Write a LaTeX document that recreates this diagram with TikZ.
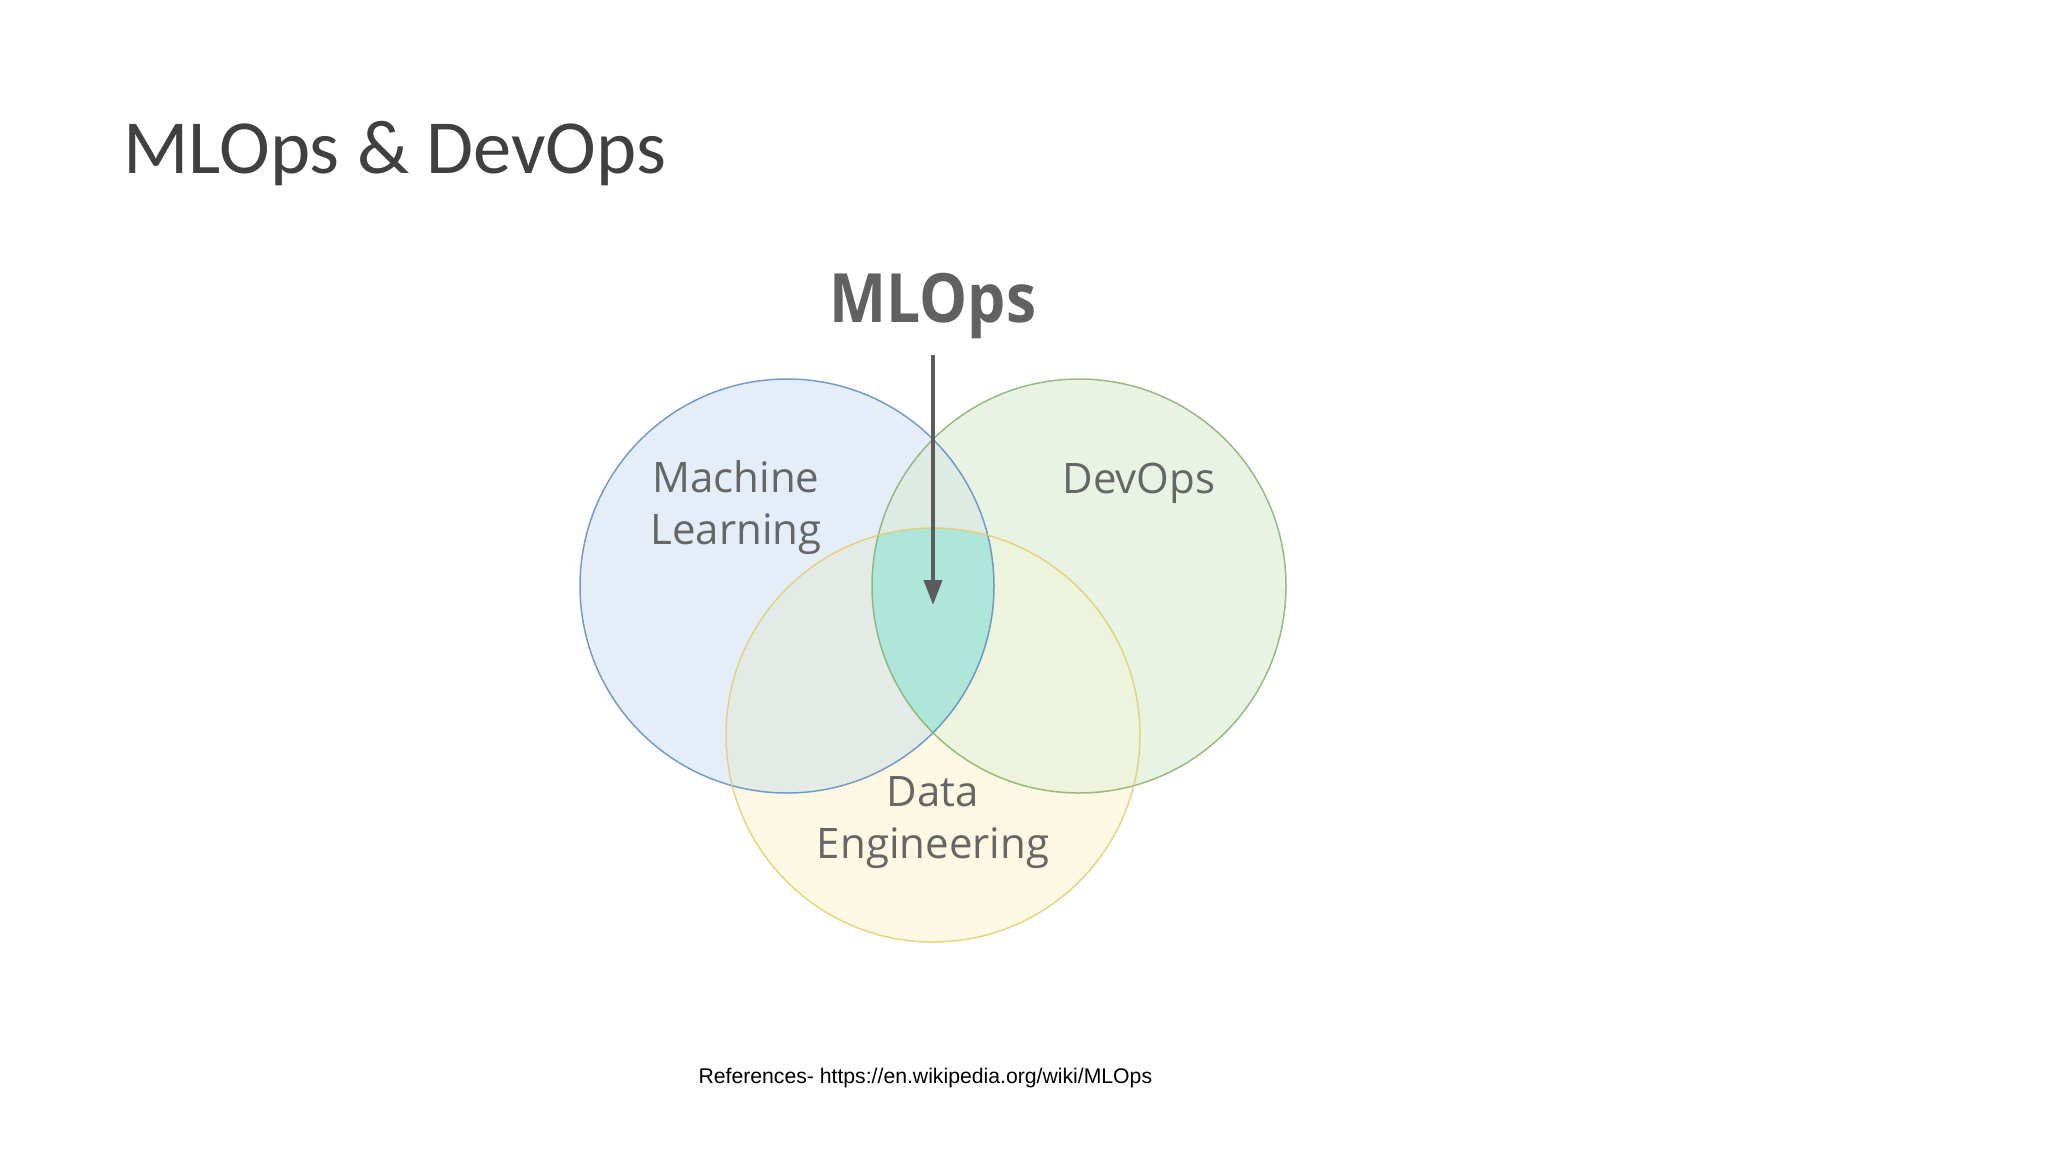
\documentclass[tikz,border=0pt]{standalone}
\usepackage{fontspec}
\setmainfont{Open Sans}
\newfontfamily\titlefont{Carlito}
\newfontfamily\narrowbold[FakeStretch=0.89]{Open Sans}
\newfontfamily\reffont{Liberation Sans}
\usetikzlibrary{arrows.meta}
\definecolor{mlfill}{HTML}{E5EEF8}
\definecolor{mlline}{HTML}{5E8CC3}
\definecolor{devfill}{HTML}{E8F3E4}
\definecolor{devline}{HTML}{88B06E}
\definecolor{defill}{HTML}{FCF8E3}
\definecolor{deline}{HTML}{E0CF70}
\definecolor{mldev}{HTML}{DEEBE3}
\definecolor{mlde}{HTML}{E4EBE6}
\definecolor{devde}{HTML}{EDF3DD}
\definecolor{core}{HTML}{AEE6DA}
\definecolor{labelgrey}{HTML}{666666}
\definecolor{titlegrey}{HTML}{404040}
\begin{document}
\begin{tikzpicture}
  [x=1pt, y=-1pt,
    setlabel/.style={%
      text=labelgrey, font=\fontsize{42}{52}\selectfont, align=center
    },
    bigword/.style={%
      text=labelgrey!95!black, font=\narrowbold\fontsize{68}{80}\selectfont\bfseries
    },
    pointer/.style={%
      -{Triangle[length=25pt,width=18pt]}, line width=4pt, draw=labelgrey!90!black
    },
    ring/.style={%
      line width=1.5pt, draw opacity=0.85
    },
  ]
  \useasboundingbox (0,0) rectangle (2048,1152);
  \fill[white] (0,0) rectangle (2048,1152);

  \coordinate (ml) at (787,586);
  \coordinate (dev) at (1079,586);
  \coordinate (de) at (933,735);
  \def\rad{207}

  \fill[mlfill] (ml) circle (\rad);
  \fill[devfill] (dev) circle (\rad);
  \fill[defill] (de) circle (\rad);

  \begin{scope}
    \clip (ml) circle (\rad);
    \fill[mldev] (dev) circle (\rad);
    \fill[mlde] (de) circle (\rad);
  \end{scope}
  \begin{scope}
    \clip (dev) circle (\rad);
    \fill[devde] (de) circle (\rad);
    \clip (ml) circle (\rad);
    \fill[core] (de) circle (\rad);
  \end{scope}

  \draw[ring, mlline] (ml) circle (\rad);
  \draw[ring, devline] (dev) circle (\rad);
  \draw[ring, deline] (de) circle (\rad);

  \node[anchor=base west, text=titlegrey, font=\titlefont\fontsize{76.5}{90}\selectfont]
    (title) at (120,173) {MLOps \& DevOps};

  \node[bigword, anchor=base] (mlops) at (933,322) {MLOps};
  \coordinate (center) at (933,605);
  \draw[pointer, shorten <=13pt] (mlops.south) -- (center);

  \node[setlabel] (mltext) at (736,508) {Machine\\Learning};
  \node[setlabel, anchor=base] (devtext) at (1139,493) {DevOps};
  \node[setlabel] (detext) at (933,823) {Data\\Engineering};

  \node[anchor=base west, font=\reffont\fontsize{21.2}{25}\selectfont]
    (refs) at (695,1083) {References- https://en.wikipedia.org/wiki/MLOps};
\end{tikzpicture}
\end{document}
